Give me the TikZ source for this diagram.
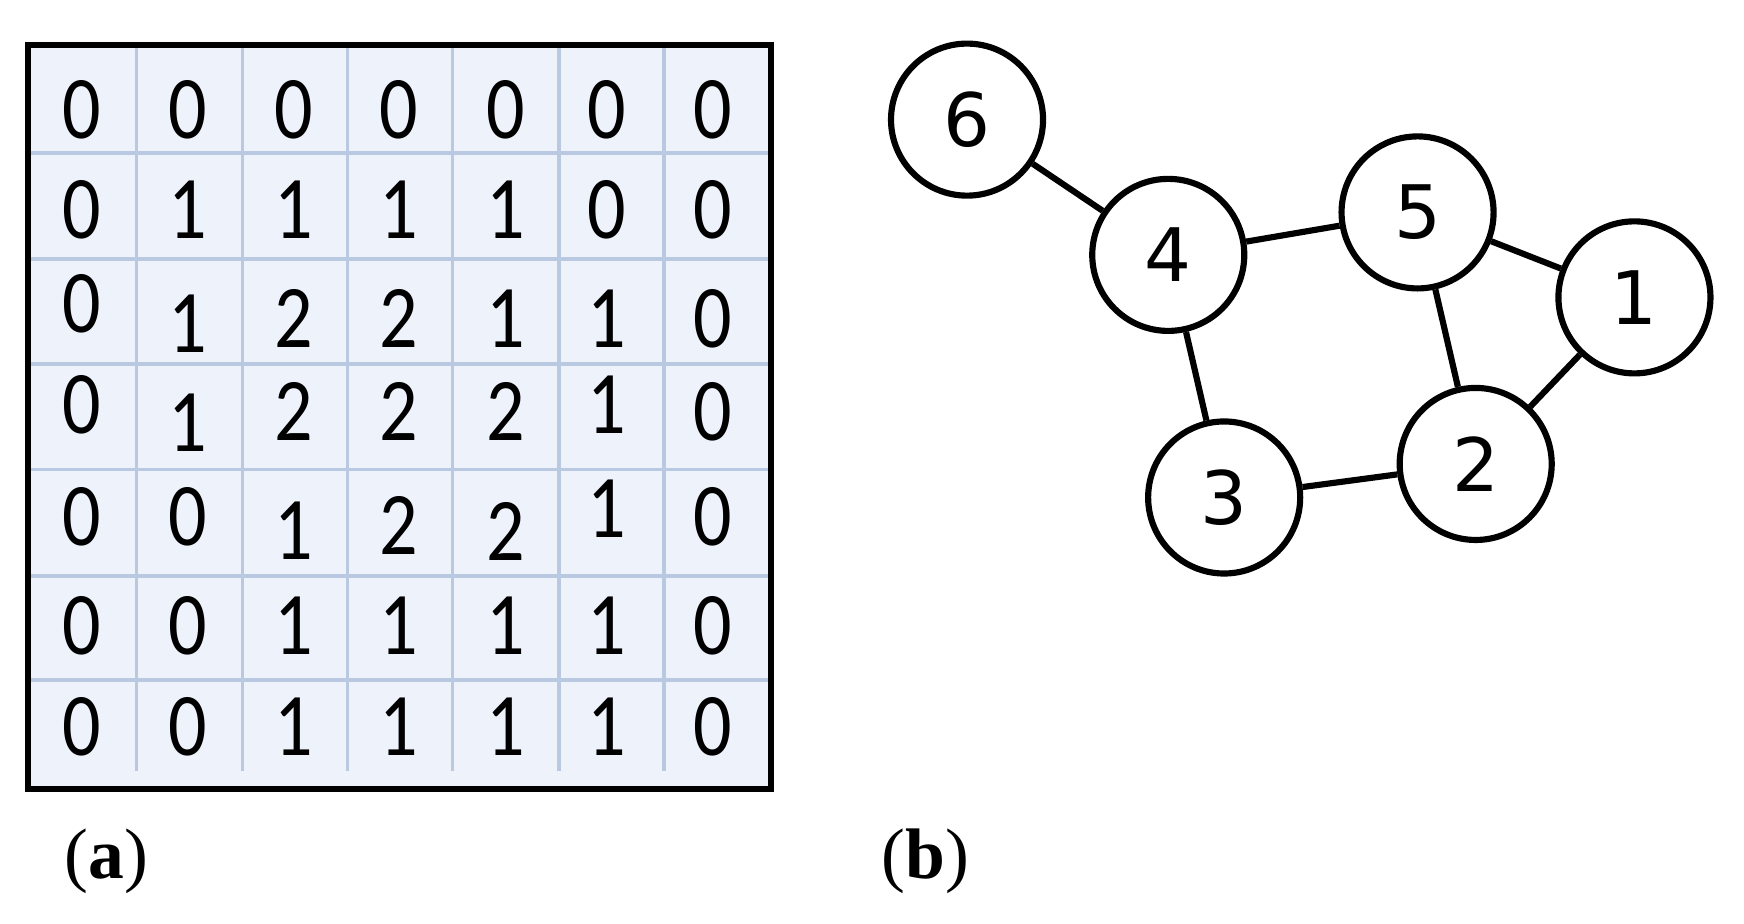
\documentclass[tikz,border=0pt]{standalone}
\usepackage{fontspec}
\setmainfont{Liberation Serif}
\newfontfamily\cellf{Carlito}
\newfontfamily\nodef{DejaVu Sans}
\definecolor{cellbg}{HTML}{EEF3FB}
\definecolor{gridc}{HTML}{B9C9E2}
\begin{document}
\begin{tikzpicture}[x=1pt,y=-1pt,
  cell/.style={font=\cellf\fontsize{80}{80}\selectfont,inner sep=0pt,xscale=0.85},
  gnode/.style={circle,draw=black,line width=5.5pt,minimum size=136pt,inner sep=0pt,font=\nodef\fontsize{66}{66}\selectfont,fill=white},
  edge/.style={line width=5.5pt},
  lab/.style={font=\fontsize{64}{64}\selectfont,inner sep=0pt}]
\useasboundingbox (0,0) rectangle (1560,826);
\fill[cellbg] (25,40) rectangle (690,706);
\foreach \x in {122,217,311,405,500,594} \draw[gridc,line width=3pt] (\x,40) -- (\x,690);
\foreach \y in {137,232,326,420,515,608} \draw[gridc,line width=3.5pt] (25,\y) -- (690,\y);
\draw[line width=5.5pt] (25,40) rectangle (690,706);
% rows
\node[cell] (r1c1) at (73,98) {0};\node[cell] (r1c2) at (168,98) {0};\node[cell] (r1c3) at (263,98) {0};\node[cell] (r1c4) at (357,98) {0};\node[cell] (r1c5) at (452,98) {0};\node[cell] (r1c6) at (543,98) {0};\node[cell] (r1c7) at (638,98) {0};
\node[cell] (r2c1) at (73,188) {0};\node[cell] (r2c2) at (168,188) {1};\node[cell] (r2c3) at (263,188) {1};\node[cell] (r2c4) at (357,188) {1};\node[cell] (r2c5) at (452,188) {1};\node[cell] (r2c6) at (543,188) {0};\node[cell] (r2c7) at (638,188) {0};
\node[cell] (r3c1) at (73,272) {0};\node[cell] (r3c2) at (168,290) {1};\node[cell] (r3c3) at (263,285) {2};\node[cell] (r3c4) at (357,285) {2};\node[cell] (r3c5) at (452,285) {1};\node[cell] (r3c6) at (543,285) {1};\node[cell] (r3c7) at (638,285) {0};
\node[cell] (r4c1) at (73,362) {0};\node[cell] (r4c2) at (168,378) {1};\node[cell] (r4c3) at (263,368) {2};\node[cell] (r4c4) at (357,368) {2};\node[cell] (r4c5) at (452,368) {2};\node[cell] (r4c6) at (543,362) {1};\node[cell] (r4c7) at (638,368) {0};
\node[cell] (r5c1) at (73,462) {0};\node[cell] (r5c2) at (168,462) {0};\node[cell] (r5c3) at (263,475) {1};\node[cell] (r5c4) at (357,470) {2};\node[cell] (r5c5) at (452,475) {2};\node[cell] (r5c6) at (543,455) {1};\node[cell] (r5c7) at (638,462) {0};
\node[cell] (r6c1) at (73,560) {0};\node[cell] (r6c2) at (168,560) {0};\node[cell] (r6c3) at (263,560) {1};\node[cell] (r6c4) at (357,560) {1};\node[cell] (r6c5) at (452,560) {1};\node[cell] (r6c6) at (543,560) {1};\node[cell] (r6c7) at (638,560) {0};
\node[cell] (r7c1) at (73,650) {0};\node[cell] (r7c2) at (168,650) {0};\node[cell] (r7c3) at (263,650) {1};\node[cell] (r7c4) at (357,650) {1};\node[cell] (r7c5) at (452,650) {1};\node[cell] (r7c6) at (543,650) {1};\node[cell] (r7c7) at (638,650) {0};
% graph
\node[gnode] (n6) at (865,107) {6};
\node[gnode] (n4) at (1045,228) {4};
\node[gnode] (n5) at (1268,190) {5};
\node[gnode] (n1) at (1462,266) {1};
\node[gnode] (n2) at (1320,415) {2};
\node[gnode] (n3) at (1095,445) {3};
\draw[edge] (n6) -- (n4);
\draw[edge] (n4) -- (n5);
\draw[edge] (n5) -- (n1);
\draw[edge] (n5) -- (n2);
\draw[edge] (n1) -- (n2);
\draw[edge] (n4) -- (n3);
\draw[edge] (n3) -- (n2);
\node[lab] (la) at (95,770) {(\textbf{a})};
\node[lab] (lb) at (828,770) {(\textbf{b})};
\end{tikzpicture}
\end{document}
